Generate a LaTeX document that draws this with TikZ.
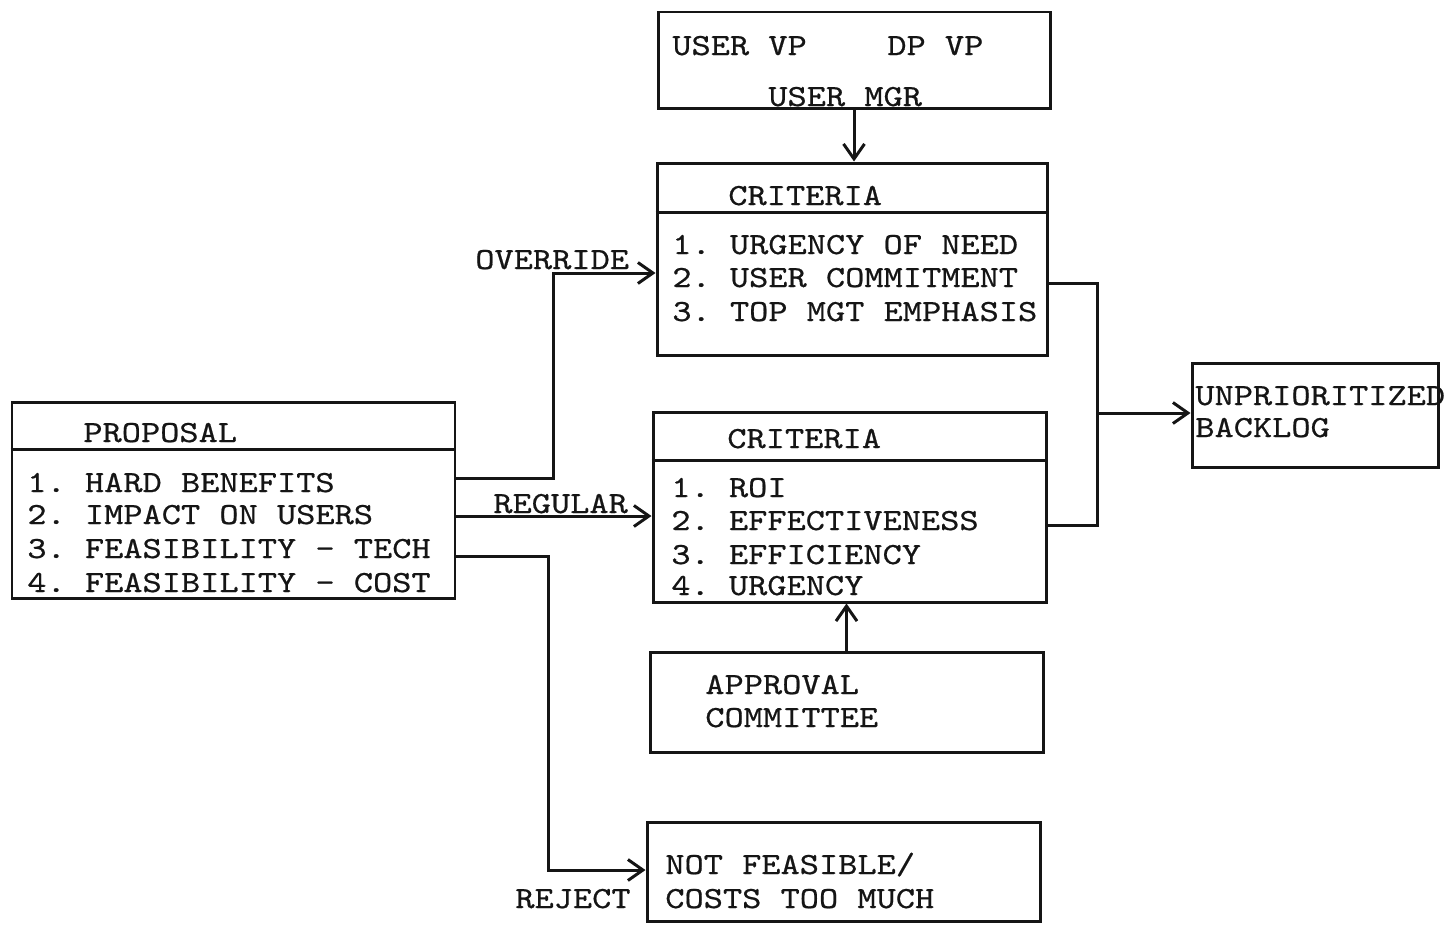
\documentclass[tikz,border=0pt]{standalone}
\usepackage{fontspec}
\usepackage{tikz}
\usetikzlibrary{arrows.meta,positioning,fit}
\newfontfamily\typer{lmmono10-regular.otf}[FakeStretch=1.19,FakeBold=0.6]
\definecolor{ink}{HTML}{151515}
\frenchspacing
\tikzset{
  box/.style={draw=ink,line width=1.7pt,inner sep=0pt},
  txt/.style={anchor=base west,inner sep=0pt,text=ink,
              font=\typer\fontsize{17.5}{20}\selectfont\frenchspacing},
  wire/.style={draw=ink,line width=1.7pt},
  flow/.style={wire,-{Straight Barb[length=3mm,width=4.2mm]}}
}

\begin{document}
\begin{tikzpicture}[x=0.02cm,y=-0.02cm]
  \useasboundingbox (0,0) rectangle (1450,924);
  % boxes
  \node[box,fit={(658,12) (1050,108)}] (mgmt) {};
  \node[box,fit={(657,163) (1047,355)}] (crit1) {};
  \node[box,fit={(653,412) (1046,602)}] (crit2) {};
  \node[box,fit={(12,402) (455,598)}] (prop) {};
  \node[box,fit={(650,652) (1043,752)}] (appr) {};
  \node[box,fit={(647,822) (1040,921)}] (nofeas) {};
  \node[box,fit={(1192,363) (1438,467)}] (backlog) {};
  \draw[wire] (crit1.west |- 0,212) -- (crit1.east |- 0,212);
  \draw[wire] (crit2.west |- 0,460) -- (crit2.east |- 0,460);
  \draw[wire] (prop.west |- 0,449) -- (prop.east |- 0,449);
  % texts
  \node[txt] (mgmt-uvp) at (672,55) {USER VP};
  \node[txt] (mgmt-dvp) at (887,55) {DP VP};
  \node[txt] (mgmt-mgr) at (768,106) {USER MGR};
  \node[txt] (crit1-head) at (728,205) {CRITERIA};
  \node[txt] (crit1-a) at (672,254) {1. URGENCY OF NEED};
  \node[txt] (crit1-b) at (672,287) {2. USER COMMITMENT};
  \node[txt] (crit1-c) at (672,321) {3. TOP MGT EMPHASIS};
  \node[txt] (crit2-head) at (727,448) {CRITERIA};
  \node[txt] (crit2-a) at (671,497) {1. ROI};
  \node[txt] (crit2-b) at (671,530) {2. EFFECTIVENESS};
  \node[txt] (crit2-c) at (671,564) {3. EFFICIENCY};
  \node[txt] (crit2-d) at (671,595) {4. URGENCY};
  \node[txt] (prop-head) at (83,442) {PROPOSAL};
  \node[txt] (prop-a) at (27,492) {1. HARD BENEFITS};
  \node[txt] (prop-b) at (27,524) {2. IMPACT ON USERS};
  \node[txt] (prop-c) at (27,558) {3. FEASIBILITY - TECH};
  \node[txt] (prop-d) at (27,592) {4. FEASIBILITY - COST};
  \node[txt] (appr-a) at (705,694) {APPROVAL};
  \node[txt] (appr-b) at (705,727) {COMMITTEE};
  \node[txt] (nofeas-a) at (665,874) {NOT FEASIBLE/};
  \node[txt] (nofeas-b) at (665,908) {COSTS TOO MUCH};
  \node[txt] (backlog-a) at (1195,405) {UNPRIORITIZED};
  \node[txt] (backlog-b) at (1195,437) {BACKLOG};
  \node[txt] (lbl-ovr) at (475,269) {OVERRIDE};
  \node[txt] (lbl-reg) at (493,513) {REGULAR};
  \node[txt] (lbl-rej) at (515,908) {REJECT};
  % connectors
  \coordinate (ovr) at (553,273);
  \coordinate (reg) at (560,516);
  \coordinate (rej) at (548,870);
  \coordinate (join) at (1097,413);
  \draw[flow] (prop.east |- 0,478) -| (ovr) -- (crit1.west |- ovr);
  \draw[flow] (prop.east |- reg) -- (crit2.west |- reg);
  \draw[flow] (prop.east |- 0,556) -| (rej) -- (nofeas.west |- rej);
  \draw[wire] (crit1.east |- 0,283) -| (join) |- (crit2.east |- 0,525);
  \draw[flow] (join) -- (backlog.west |- join);
  \draw[flow] (mgmt.south) -- (crit1.north -| mgmt.south);
  \draw[flow] (appr.north) -- (crit2.south -| appr.north);
\end{tikzpicture}
\end{document}
